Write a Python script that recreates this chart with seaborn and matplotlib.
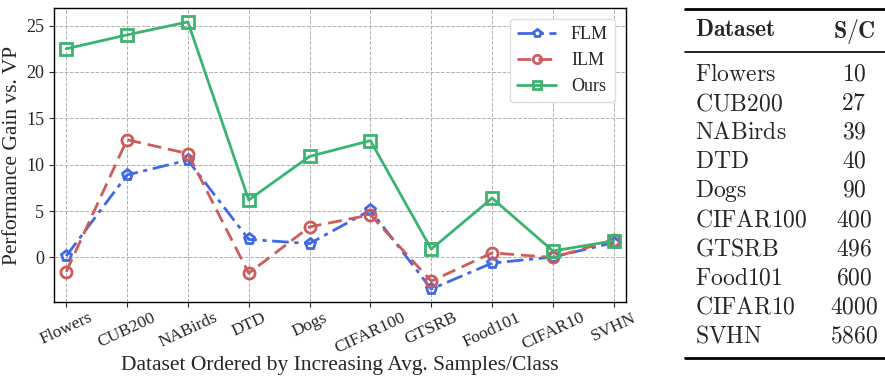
import numpy as np
import pandas as pd
import matplotlib
matplotlib.use("Agg")
import matplotlib.pyplot as plt
import seaborn as sns

# Data
datasets = ["Flowers", "CUB200", "NABirds", "DTD", "Dogs",
            "CIFAR100", "GTSRB", "Food101", "CIFAR10", "SVHN"]
flm = [0.15, 8.9, 10.5, 1.95, 1.5, 5.1, -3.4, -0.6, 0.05, 1.6]
ilm = [-1.55, 12.7, 11.2, -1.7, 3.3, 4.6, -2.55, 0.5, 0.0, 1.9]
ours = [22.5, 24.0, 25.4, 6.2, 10.9, 12.6, 0.9, 6.4, 0.7, 1.8]
samples_per_class = [10, 27, 39, 40, 90, 400, 496, 600, 4000, 5860]

sns.set_style("ticks")
plt.rcParams['font.family'] = ['Liberation Serif', 'DejaVu Serif']
plt.rcParams['mathtext.fontset'] = 'cm'

df = pd.DataFrame({"Dataset": datasets, "FLM": flm, "ILM": ilm, "Ours": ours})
df["x"] = np.arange(len(datasets))
long = df.melt(id_vars=["Dataset", "x"], var_name="Method", value_name="Gain")

fig = plt.figure(figsize=(8.85, 3.79), dpi=100)
ax = fig.add_axes([54 / 885, 1 - 302 / 379, 572 / 885, 294 / 379])

palette = {"FLM": "#4169e1", "ILM": "#cd5c5c", "Ours": "#3cb371"}
styles = {"FLM": ("p", (0, (6, 2, 1.5, 2))), "ILM": ("o", (0, (5, 2.5))), "Ours": ("s", "-")}

for name in ["FLM", "ILM", "Ours"]:
    sub = long[long["Method"] == name]
    marker, ls = styles[name]
    sns.lineplot(data=sub, x="x", y="Gain", ax=ax, color=palette[name],
                 marker=marker, markersize=8, markerfacecolor="none",
                 markeredgecolor=palette[name], markeredgewidth=2,
                 linewidth=2, linestyle=ls, label=name)

ax.set_xlim(-0.2, 9.2)
ax.set_ylim(-4.8, 26.9)
ax.set_xticks(df["x"])
ax.set_xticklabels(datasets, rotation=25, fontsize=12.5)
ax.set_yticks([0, 5, 10, 15, 20, 25])
ax.tick_params(axis='y', labelsize=13)
ax.tick_params(axis='x', pad=2)
ax.grid(True, linestyle="--", color="#b0b0b0", linewidth=0.7)
ax.set_xlabel("Dataset Ordered by Increasing Avg. Samples/Class", fontsize=15.5)
ax.xaxis.set_label_coords(0.5, -0.185)
ax.set_ylabel("Performance Gain vs. VP", fontsize=15.5, labelpad=3)
for s in ax.spines.values():
    s.set_color("black")
    s.set_linewidth(1)
ax.legend(loc="upper right", fontsize=13, handlelength=2.2, framealpha=1,
          edgecolor="#dddddd", markerscale=0.75, borderaxespad=0.6)

# Table on the right
def fx(px):
    return px / 885

def fy(py):
    return 1 - py / 379

x0, x1 = 685, 885
fig.add_artist(plt.Line2D([fx(x0), fx(x1)], [fy(8.7), fy(8.7)], color="black", lw=2))
fig.add_artist(plt.Line2D([fx(x0), fx(x1)], [fy(51.7), fy(51.7)], color="black", lw=1.2))
fig.add_artist(plt.Line2D([fx(x0), fx(x1)], [fy(358.3), fy(358.3)], color="black", lw=2))

fig.text(fx(695), fy(31), r"$\mathbf{Dataset}$", fontsize=17, va="center", ha="left")
fig.text(fx(854), fy(31), r"$\mathbf{S/C}$", fontsize=17, va="center", ha="center")
for i, (d, n) in enumerate(zip(datasets, samples_per_class)):
    yy = 75 + i * 29.1
    fig.text(fx(695), fy(yy), r"$\mathrm{%s}$" % d, fontsize=17, va="center", ha="left")
    fig.text(fx(854), fy(yy), r"$\mathrm{%d}$" % n, fontsize=17, va="center", ha="center")

plt.savefig("out.png", dpi=100)
plt.close()
